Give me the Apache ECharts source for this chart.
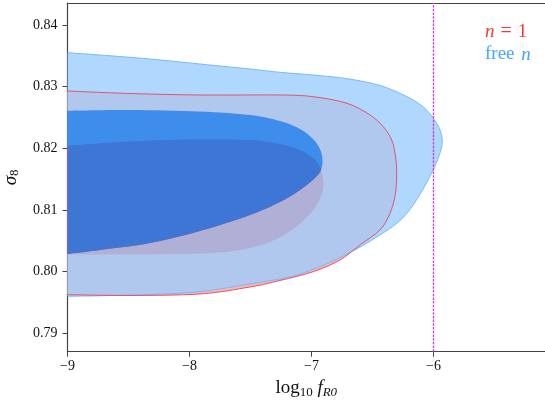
<!DOCTYPE html>
<html><head><meta charset="utf-8">
<script src="https://cdn.jsdelivr.net/npm/echarts@6/dist/echarts.min.js"></script>
<style>html,body{margin:0;padding:0;background:#fff}#c{width:545px;height:406px}</style>
</head><body><div id="c"></div>
<script>
// ---- data ----
const xTicks = [-9, -8, -7, -6];
const yTicks = [0.79, 0.80, 0.81, 0.82, 0.83, 0.84];
const xRange = [-9, -5.086];
const yRange = [0.78702, 0.84357];
const fR0Line = -6;

// free n, 95% contour (outer)
const freeOuter = [
  [-9, 0.83551], [-8.7336, 0.835135], [-8.3238, 0.834487], [-7.9139, 0.833676],
  [-7.5041, 0.832865], [-7.2582, 0.83233], [-6.9877, 0.831892], [-6.709, 0.831300],
  [-6.4385, 0.830200], [-6.2172, 0.828374], [-6.0861, 0.826752], [-6.0016, 0.824871],
  [-5.9467, 0.822974], [-5.9279, 0.821077], [-5.9467, 0.819245], [-5.9877, 0.817137],
  [-6.0451, 0.814867], [-6.1189, 0.812272], [-6.209, 0.809678], [-6.3074, 0.807732],
  [-6.4385, 0.805948], [-6.5779, 0.804246], [-6.709, 0.802868], [-6.8484, 0.801489],
  [-6.9877, 0.800354], [-7.1189, 0.799462], [-7.2582, 0.798814], [-7.5041, 0.798003],
  [-7.9139, 0.796754], [-8.3238, 0.7963], [-8.7336, 0.796089], [-9, 0.796008]
];
// free n, 68% contour (inner)
const freeInner = [
  [-9, 0.826104], [-8.4877, 0.826217], [-7.9139, 0.825974], [-7.5041, 0.825406],
  [-7.2582, 0.824434], [-7.0943, 0.823136], [-6.9877, 0.821515], [-6.9303, 0.819893],
  [-6.9098, 0.81811], [-6.9221, 0.816488], [-6.9713, 0.81519], [-7.0943, 0.813245],
  [-7.2582, 0.811299], [-7.5041, 0.809191], [-7.9139, 0.806596], [-8.3238, 0.804651],
  [-8.7336, 0.803516], [-9, 0.802867]
];
// n = 1, 95% contour (outer)
const n1Outer = [
  [-9, 0.829298], [-8.4877, 0.828893], [-7.9139, 0.828649], [-7.2582, 0.828649],
  [-6.9877, 0.828374], [-6.709, 0.827304], [-6.5205, 0.825406], [-6.4115, 0.823509],
  [-6.3426, 0.821353], [-6.3156, 0.819196], [-6.3016, 0.816488], [-6.3115, 0.81271],
  [-6.3566, 0.809467], [-6.4385, 0.806759], [-6.6025, 0.804327], [-6.7664, 0.801895],
  [-6.9852, 0.8], [-7.2582, 0.798571], [-7.5041, 0.797517], [-7.9139, 0.796382],
  [-8.4877, 0.796138], [-9, 0.79627]
];
// n = 1, 68% contour (inner)
const n1Inner = [
  [-9, 0.820428], [-8.4877, 0.82111], [-7.9139, 0.821466], [-7.5041, 0.821353],
  [-7.2582, 0.820704], [-7.0943, 0.819731], [-6.9877, 0.818433], [-6.9303, 0.816975],
  [-6.9057, 0.81519], [-6.9057, 0.813245], [-6.9467, 0.811137], [-7.0287, 0.809029],
  [-7.1598, 0.806759], [-7.3402, 0.804813], [-7.5861, 0.803516], [-7.9139, 0.802948],
  [-8.4877, 0.802786], [-9, 0.802786]
];

// ---- chart ----
const FONT = "'Liberation Serif', 'DejaVu Serif', serif";
const fmtMinus = v => (v < 0 ? '\u2212' : '') + Math.abs(v);
const f2 = v => v.toFixed(2);

// smooth open chain (Catmull-Rom -> cubic Bezier) through pixel points
function smoothChain(pts, close) {
  let d = 'M' + f2(pts[0][0]) + ' ' + f2(pts[0][1]);
  const n = pts.length;
  for (let i = 0; i < n - 1; i++) {
    const p0 = pts[Math.max(i - 1, 0)], p1 = pts[i], p2 = pts[i + 1], p3 = pts[Math.min(i + 2, n - 1)];
    const c1x = p1[0] + (p2[0] - p0[0]) / 6, c1y = p1[1] + (p2[1] - p0[1]) / 6;
    const c2x = p2[0] - (p3[0] - p1[0]) / 6, c2y = p2[1] - (p3[1] - p1[1]) / 6;
    d += ' C' + f2(c1x) + ' ' + f2(c1y) + ' ' + f2(c2x) + ' ' + f2(c2y) + ' ' + f2(p2[0]) + ' ' + f2(p2[1]);
  }
  return d + (close ? ' Z ' : ' ');
}
function areaSeries(outer, inner, fill) {
  return {
    type: 'custom', coordinateSystem: 'cartesian2d', silent: true, clip: true,
    data: [outer[0]],
    renderItem: (params, api) => {
      let d = smoothChain(outer.map(p => api.coord(p)), true);
      if (inner) d += smoothChain(inner.map(p => api.coord(p)).reverse(), true);
      return { type: 'path', shape: { pathData: d }, style: { fill: fill, stroke: 'none' } };
    }
  };
}
function outlineSeries(points, color, width) {
  return {
    type: 'custom', coordinateSystem: 'cartesian2d', silent: true, clip: true,
    data: [points[0]],
    renderItem: (params, api) => ({
      type: 'path',
      shape: { pathData: smoothChain(points.map(p => api.coord(p)), false) },
      style: { fill: 'none', stroke: color, lineWidth: width }
    })
  };
}

const chart = echarts.init(document.getElementById('c'), null, { renderer: 'canvas' });
chart.setOption({
  animation: false,
  backgroundColor: '#ffffff',
  grid: { left: 67.5, right: 0, top: 3, bottom: 54.3, containLabel: false, outerBoundsMode: 'none' },
  xAxis: [{
    type: 'value', min: xRange[0], max: xRange[1], position: 'bottom',
    axisLine: { show: true, lineStyle: { color: '#444', width: 1.2 } },
    axisTick: { show: true, length: 5, inside: false, customValues: xTicks, lineStyle: { color: '#444', width: 1 } },
    axisLabel: { customValues: xTicks, formatter: fmtMinus, color: '#111', fontFamily: FONT, fontSize: 14, margin: 8 },
    splitLine: { show: false },
    name: '{r|log}{sub|10} {i|f}{isub|R0}', nameLocation: 'middle', nameGap: 23,
    nameTextStyle: {
      color: '#111', fontFamily: FONT, fontSize: 19,
      rich: {
        r: { fontFamily: FONT, fontSize: 19, lineHeight: 22, color: '#111' },
        sub: { fontFamily: FONT, fontSize: 13, lineHeight: 13, verticalAlign: 'bottom', color: '#111' },
        i: { fontFamily: FONT, fontSize: 19, fontStyle: 'italic', lineHeight: 22, color: '#111' },
        isub: { fontFamily: FONT, fontSize: 13, fontStyle: 'italic', lineHeight: 13, verticalAlign: 'bottom', color: '#111' }
      }
    }
  }, {
    type: 'value', min: xRange[0], max: xRange[1], position: 'top',
    axisLine: { show: true, lineStyle: { color: '#444', width: 1.2 } },
    axisTick: { show: false }, axisLabel: { show: false }, splitLine: { show: false }
  }],
  yAxis: [{
    type: 'value', min: yRange[0], max: yRange[1],
    axisLine: { show: true, lineStyle: { color: '#444', width: 1.2 } },
    axisTick: { show: true, length: 5, customValues: yTicks, lineStyle: { color: '#444', width: 1 } },
    axisLabel: { customValues: yTicks, formatter: v => v.toFixed(2), color: '#111', fontFamily: FONT, fontSize: 14, margin: 10 },
    splitLine: { show: false },
    name: '{s|\u03c3}{sub|8}', nameLocation: 'middle', nameGap: 46, nameRotate: 90,
    nameTextStyle: {
      color: '#111', fontFamily: FONT, fontSize: 18,
      rich: {
        s: { fontFamily: FONT, fontSize: 19, fontStyle: 'italic', lineHeight: 22, color: '#111' },
        sub: { fontFamily: FONT, fontSize: 13, lineHeight: 13, verticalAlign: 'bottom', color: '#111' }
      }
    }
  }],
  series: [
    areaSeries(n1Outer, null, 'rgb(255,180,175)'),
    areaSeries(n1Inner, null, 'rgb(255,60,60)'),
    areaSeries(freeOuter, freeInner, 'rgba(156,205,254,0.8)'),
    areaSeries(freeInner, null, 'rgba(12,132,251,0.8)'),
    outlineSeries(freeOuter, 'rgba(120,185,250,1)', 1),
    outlineSeries(n1Outer, 'rgba(232,70,90,0.9)', 1),
    {
      type: 'custom', coordinateSystem: 'cartesian2d', silent: true, clip: false, z: 5,
      data: [[fR0Line, yRange[0]]],
      renderItem: (params, api) => {
        const a = api.coord([fR0Line, yRange[0]]), b = api.coord([fR0Line, yRange[1]]);
        return { type: 'line', shape: { x1: a[0], y1: a[1], x2: b[0], y2: b[1] },
          style: { stroke: 'rgb(214,50,245)', lineWidth: 1.3, lineDash: [2.5, 1.2], fill: 'none', opacity: 1 } };
      }
    }
  ],
  graphic: [
    { type: 'text', left: 485, top: 22, silent: true,
      style: { text: '{i|n}{e|=}1', fill: '#ff3535', font: '19px ' + FONT,
        rich: {
          i: { fontStyle: 'italic', fontFamily: FONT, fontSize: 19, fill: '#ff3535' },
          e: { fontFamily: FONT, fontSize: 20, fill: '#ff3535', padding: [0, 6, 0, 6] }
        } } },
    { type: 'text', left: 485, top: 45, silent: true,
      style: { text: 'free {i|n}', fill: '#4aa3ff', font: '19px ' + FONT,
        rich: { i: { fontStyle: 'italic', fontFamily: FONT, fontSize: 19, fill: '#4aa3ff', padding: [0, 0, 0, 2] } } } }
  ]
});
</script>
</body></html>
